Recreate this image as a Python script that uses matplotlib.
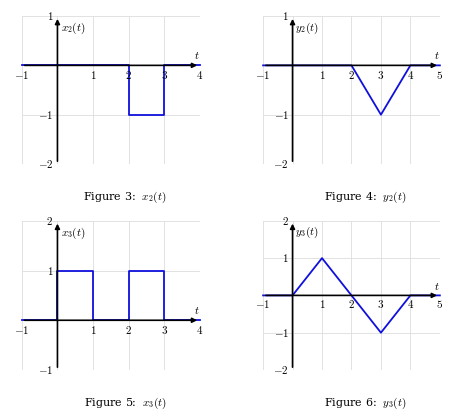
import matplotlib.pyplot as plt

plt.rcParams['mathtext.fontset'] = 'cm'
plt.rcParams['font.family'] = 'DejaVu Serif'

x2_t = [-1, 2, 2, 3, 3, 4]
x2_v = [0, 0, -1, -1, 0, 0]
y2_t = [-1, 2, 3, 4, 5]
y2_v = [0, 0, -1, 0, 0]
x3_t = [-1, 0, 0, 1, 1, 2, 2, 3, 3, 4]
x3_v = [0, 0, 1, 1, 0, 0, 1, 1, 0, 0]
y3_t = [-1, 0, 1, 2, 3, 4, 5]
y3_v = [0, 0, 1, 0, -1, 0, 0]

panels = [
    (x2_t, x2_v, (-1, 4), (-2, 1), r'$x_2(t)$', r'Figure 3:  $x_2(t)$', [0.046, 0.602, 0.376, 0.359]),
    (y2_t, y2_v, (-1, 5), (-2, 1), r'$y_2(t)$', r'Figure 4:  $y_2(t)$', [0.555, 0.602, 0.373, 0.359]),
    (x3_t, x3_v, (-1, 4), (-1, 2), r'$x_3(t)$', r'Figure 5:  $x_3(t)$', [0.046, 0.102, 0.376, 0.362]),
    (y3_t, y3_v, (-1, 5), (-2, 2), r'$y_3(t)$', r'Figure 6:  $y_3(t)$', [0.555, 0.102, 0.373, 0.362]),
]

fig = plt.figure(figsize=(4.74, 4.12), dpi=100)
for t, v, xl, yl, name, cap, rect in panels:
    ax = fig.add_axes(rect)
    ax.set_xlim(xl)
    ax.set_ylim(yl)
    for s in ax.spines.values():
        s.set_visible(False)
    ax.set_xticks(range(xl[0], xl[1] + 1))
    ax.set_yticks(range(yl[0], yl[1] + 1))
    ax.grid(True, color='#dddddd', lw=0.6)
    ax.tick_params(length=0, labelbottom=False, labelleft=False)
    # axes
    ax.annotate('', xy=(xl[1], 0), xytext=(xl[0], 0),
                arrowprops=dict(arrowstyle='-|>', color='black', lw=1.2, mutation_scale=7))
    ax.annotate('', xy=(0, yl[1]), xytext=(0, yl[0]),
                arrowprops=dict(arrowstyle='-|>', color='black', lw=1.2, mutation_scale=7))
    ax.plot(t, v, color='#1010dd', lw=1.3, clip_on=False)
    for k in range(xl[0], xl[1] + 1):
        if k != 0:
            ax.text(k, -0.08, f'${k}$' if k > 0 else f'$-{-k}$', ha='center', va='top', fontsize=8)
    for k in range(yl[0], yl[1] + 1):
        if k != 0:
            ax.text(-0.12, k, f'${k}$' if k > 0 else f'$-{-k}$', ha='right', va='center', fontsize=8)
    ax.text(0.1, yl[1] - 0.1, name, ha='left', va='top', fontsize=8)
    ax.text(xl[1] - 0.1, 0.08, r'$t$', ha='center', va='bottom', fontsize=8)
    fig.text(rect[0] + rect[2] * 0.58, rect[1] - 0.08, cap, ha='center', va='center', fontsize=8)

fig.savefig('out.png')
